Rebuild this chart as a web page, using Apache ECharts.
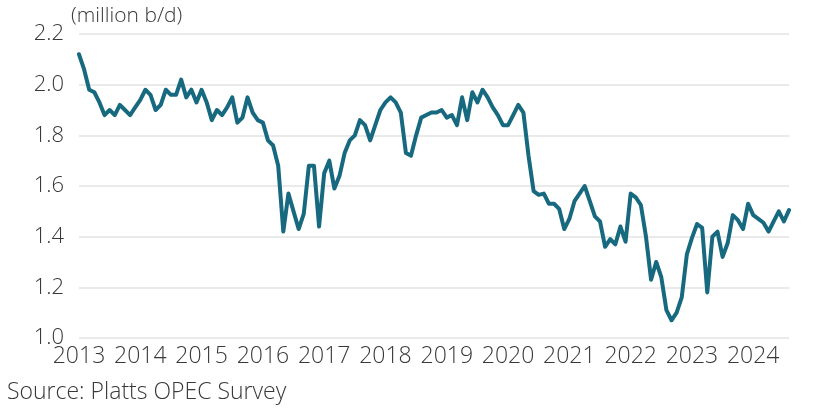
<!DOCTYPE html>
<html>
<head>
<meta charset="utf-8">
<script src="https://cdn.jsdelivr.net/npm/echarts@6/dist/echarts.min.js"></script>
<style>
html,body{margin:0;padding:0;background:#fff;}
#chart{width:830px;height:410px;}
</style>
</head>
<body>
<div id="chart"></div>
<script>
// Tick labels (years) and monthly categories Jan 2013 .. Aug 2024
const yearLabels = ['2013','2014','2015','2016','2017','2018','2019','2020','2021','2022','2023','2024'];
const monthsInLastYear = 8;

// Monthly production, million b/d
const values2013 = [2.12, 2.06, 1.98, 1.97, 1.93, 1.88, 1.90, 1.88, 1.92, 1.90, 1.88, 1.91];
const values2014 = [1.94, 1.98, 1.96, 1.90, 1.92, 1.98, 1.96, 1.96, 2.02, 1.95, 1.98, 1.93];
const values2015 = [1.98, 1.93, 1.86, 1.90, 1.88, 1.91, 1.95, 1.85, 1.87, 1.95, 1.89, 1.86];
const values2016 = [1.85, 1.78, 1.76, 1.68, 1.42, 1.57, 1.50, 1.43, 1.49, 1.68, 1.68, 1.44];
const values2017 = [1.65, 1.70, 1.59, 1.64, 1.73, 1.78, 1.80, 1.86, 1.84, 1.78, 1.84, 1.90];
const values2018 = [1.93, 1.95, 1.93, 1.89, 1.73, 1.72, 1.80, 1.87, 1.88, 1.89, 1.89, 1.90];
const values2019 = [1.87, 1.88, 1.84, 1.95, 1.86, 1.97, 1.93, 1.98, 1.95, 1.91, 1.88, 1.84];
const values2020 = [1.84, 1.88, 1.92, 1.89, 1.72, 1.58, 1.565, 1.57, 1.53, 1.53, 1.51, 1.43];
const values2021 = [1.47, 1.54, 1.57, 1.60, 1.54, 1.48, 1.46, 1.36, 1.39, 1.37, 1.44, 1.38];
const values2022 = [1.57, 1.555, 1.525, 1.40, 1.23, 1.30, 1.24, 1.11, 1.07, 1.10, 1.16, 1.33];
const values2023 = [1.395, 1.45, 1.435, 1.18, 1.40, 1.42, 1.32, 1.375, 1.485, 1.465, 1.43, 1.53];
const values2024 = [1.485, 1.47, 1.455, 1.42, 1.46, 1.50, 1.46, 1.505];

const yTicks = [1.0, 1.2, 1.4, 1.6, 1.8, 2.0, 2.2];

const allValues = [].concat(values2013, values2014, values2015, values2016, values2017, values2018,
  values2019, values2020, values2021, values2022, values2023, values2024);

const categories = [];
yearLabels.forEach((y, i) => {
  const n = (i === yearLabels.length - 1) ? monthsInLastYear : 12;
  for (let m = 1; m <= n; m++) categories.push(y + '-' + String(m).padStart(2, '0'));
});

const FONT = '"Open Sans", "Noto Sans", sans-serif';
const TXT = '#383838';

const chart = echarts.init(document.getElementById('chart'), null, {renderer: 'canvas'});
chart.setOption({
  animation: false,
  backgroundColor: '#fff',
  title: [
    {text: '(million b/d)', left: 66, top: 1,
     textStyle: {fontFamily: FONT, fontSize: 21, fontWeight: 300, color: TXT}},
    {text: 'Source: Platts OPEC Survey', left: 2, top: 376,
     textStyle: {fontFamily: FONT, fontSize: 23, fontWeight: 300, color: TXT}}
  ],
  grid: {left: 79, right: 41, top: 34, bottom: 72},
  xAxis: {
    type: 'category',
    data: categories,
    boundaryGap: false,
    axisLine: {show: false},
    axisTick: {show: false},
    splitLine: {show: false},
    axisLabel: {
      interval: (idx) => idx % 12 === 0,
      formatter: (v) => v.slice(0, 4),
      fontFamily: FONT, fontSize: 23, fontWeight: 300, color: TXT,
      margin: 7
    }
  },
  yAxis: {
    type: 'value',
    min: yTicks[0],
    max: yTicks[yTicks.length - 1],
    interval: 0.2,
    axisLine: {show: false},
    axisTick: {show: false},
    splitLine: {lineStyle: {color: '#e3e3e3', width: 1.5}},
    axisLabel: {
      formatter: (v) => v.toFixed(1),
      fontFamily: FONT, fontSize: 22, fontWeight: 300, color: TXT,
      margin: 15,
      padding: [6, 0, 0, 0]
    }
  },
  series: [{
    type: 'line',
    data: allValues,
    showSymbol: false,
    symbol: 'none',
    lineStyle: {color: '#16697f', width: 4, join: 'round', cap: 'round'}
  }]
});
</script>
</body>
</html>
